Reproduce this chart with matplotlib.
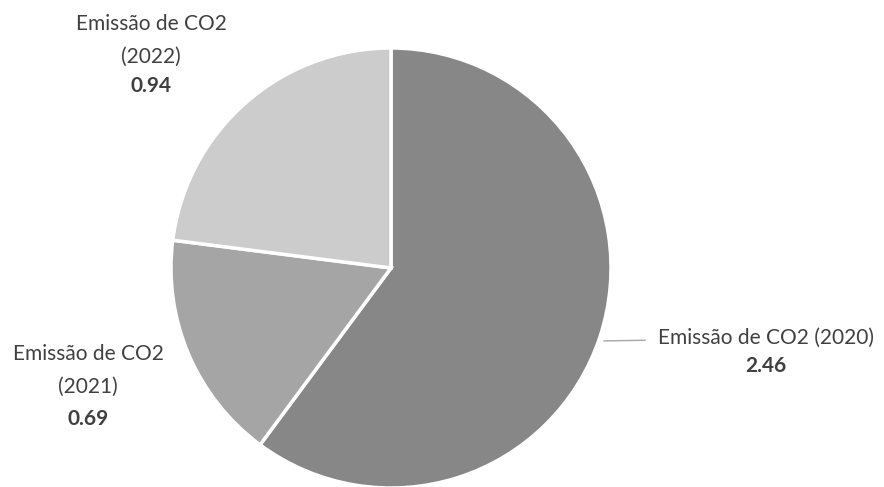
import numpy as np
import matplotlib.pyplot as plt

# dados
labels = ['Emissão de CO2 (2020)', 'Emissão de CO2\n(2021)', 'Emissão de CO2\n(2022)']
values = [2.46, 0.69, 0.94]
colors = ['#878787', '#a5a5a5', '#cccccc']

plt.rcParams['font.family'] = ['Lato', 'DejaVu Sans']

W, H = 884, 487
fig = plt.figure(figsize=(W / 100, H / 100), dpi=100)
# eixo centrado no centro da pizza (391, 268) px, raio 220 px
cx, cy, r = 391, 268, 220
ax = fig.add_axes([(cx - r) / W, (H - cy - r) / H, 2 * r / W, 2 * r / H])

wedges, _ = ax.pie(values, colors=colors, startangle=90, counterclock=False,
                   wedgeprops=dict(edgecolor='white', linewidth=2.5), radius=1)
ax.set_xlim(-1, 1)
ax.set_ylim(-1, 1)
ax.set_aspect('equal')
ax.axis('off')

txt_color = '#404040'
fs = 15
# posição (centro x, linhas de base y) dos rótulos, em pixels
label_x = [766, 88, 151]
label_base = [[344, 372], [360, 393, 425], [30, 63, 92]]

for lab, val, lx, bases in zip(labels, values, label_x, label_base):
    lines = lab.split('\n') + [f'{val:.2f}']
    for i, (txt, by) in enumerate(zip(lines, bases)):
        bold = i == len(lines) - 1
        fig.text(lx / W, 1 - by / H, txt, ha='center', va='baseline', fontsize=fs,
                 fontweight='bold' if bold else 'normal', color=txt_color)

# linha guia da fatia 2020
w = wedges[0]
mid = np.deg2rad((w.theta1 + w.theta2) / 2)
x0, y0 = np.cos(mid), np.sin(mid)
ax.plot([x0 * 1.02, 1.155], [y0 - 0.018, y0 - 0.015], color='#a6a6a6', lw=1, clip_on=False)

fig.savefig('out.png', dpi=100)
